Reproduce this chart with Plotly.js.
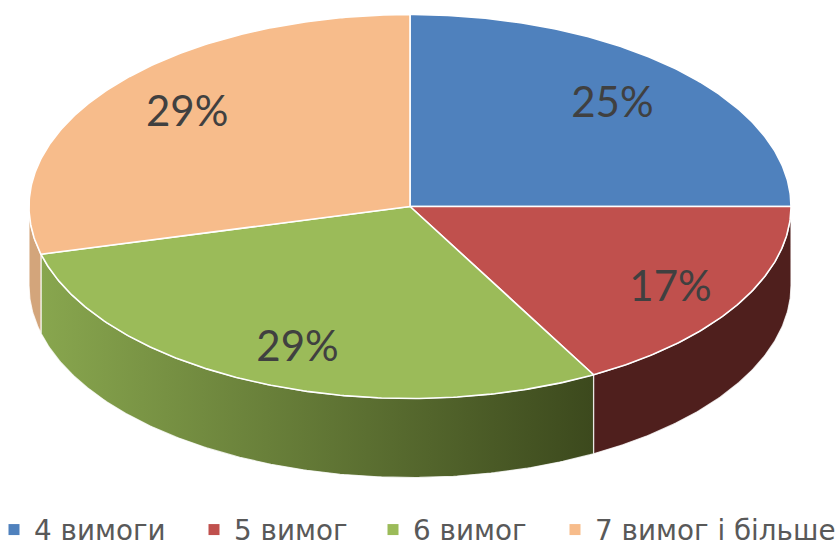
<!DOCTYPE html>
<html>
<head>
<meta charset="utf-8">
<script src="https://cdn.plot.ly/plotly-3.0.1.min.js"></script>
<style>html,body{margin:0;padding:0;background:#fff}#chart{width:835px;height:546px}</style>
</head>
<body>
<div id="chart"></div>
<script>
const categories = ['4 вимоги', '5 вимог', '6 вимог', '7 вимог і більше'];
const values = [25, 17, 29, 29];
const topColors = ['#4f81bd', '#c0504d', '#9bbb59', '#f7bc8b'];
const wallGradients = [
  null,
  ['#4f1f1d', '#4f1f1d'],
  ['#88a64e', '#3c491d'],
  ['#d3a57b', '#d3a57b']
];
const legendLeft = [-6, 194, 373, 555];
const labelNudgeX = [-5, 8, 4, 9];
const labelNudgeY = [5, 9, 8, 0];

// Pie geometry, in pixels of the 835x546 page
const W = 835, H = 546, CX = 410, CY = 206.5, RX = 381, RY = 192, DEPTH = 79;
const depth = DEPTH / RY, labelR = 0.77, legendY = 530;

const rim = a => [Math.sin(a), Math.cos(a)];      // a: clockwise from top, unit ellipse
function arc(a0, a1, dy) {
  const n = Math.max(2, Math.ceil(Math.abs(a1 - a0) / 0.01)), xs = [], ys = [];
  for (let i = 0; i <= n; i++) {
    const p = rim(a0 + (a1 - a0) * i / n);
    xs.push(p[0]); ys.push(p[1] - dy);
  }
  return [xs, ys];
}

const total = values.reduce((s, v) => s + v, 0);
const turn = v => 2 * Math.PI * v / total;
let acc = 0;
const spans = values.map(v => { const s = [turn(acc), turn(acc + v)]; acc += v; return s; });

const traces = [];
const WALL_LINE = {color: 'rgba(255,255,255,0.8)', width: 1.2};

// Side walls: only the near half of the rim (right to left, through the bottom)
spans.forEach((s, i) => {
  const a0 = Math.max(s[0], Math.PI / 2), a1 = Math.min(s[1], 3 * Math.PI / 2);
  if (a1 <= a0 || !wallGradients[i]) return;
  const t = arc(a0, a1, 0), b = arc(a1, a0, depth);
  traces.push({
    type: 'scatter', mode: 'lines', x: t[0].concat(b[0], [t[0][0]]), y: t[1].concat(b[1], [t[1][0]]),
    fill: 'toself', line: WALL_LINE,
    fillgradient: {type: 'horizontal', colorscale: [[0, wallGradients[i][0]], [1, wallGradients[i][1]]]},
    showlegend: false, hoverinfo: 'skip'
  });
});

// Top faces
spans.forEach((s, i) => {
  const t = arc(s[0], s[1], 0);
  traces.push({
    type: 'scatter', mode: 'lines', x: [0].concat(t[0], [0]), y: [0].concat(t[1], [0]),
    fill: 'toself', fillcolor: topColors[i], line: {color: '#fff', width: 1.6},
    showlegend: false, hoverinfo: 'skip'
  });
});

// Percent labels
traces.push({
  type: 'scatter', mode: 'text',
  x: spans.map((s, i) => labelR * rim((s[0] + s[1]) / 2)[0] + labelNudgeX[i] / RX),
  y: spans.map((s, i) => labelR * rim((s[0] + s[1]) / 2)[1] - labelNudgeY[i] / RY),
  text: values.map(v => v + '%'), textposition: 'middle center',
  textfont: {family: 'Lato, sans-serif', size: 42, color: '#404040'},
  showlegend: false, hoverinfo: 'skip'
});

// Legend entries, one legend each so that spacing follows the picture
const legends = {};
categories.forEach((c, i) => {
  const key = i === 0 ? 'legend' : 'legend' + (i + 1);
  traces.push({
    type: 'scatter', mode: 'markers', x: [null], y: [null], name: c, legend: key,
    marker: {symbol: 'square', size: 11, color: topColors[i]}, hoverinfo: 'skip'
  });
  legends[key] = {
    x: legendLeft[i] / W, xanchor: 'left', y: (H - legendY) / H, yanchor: 'middle',
    orientation: 'h', bgcolor: 'rgba(0,0,0,0)', borderwidth: 0, itemclick: false,
    font: {family: 'DejaVu Sans, sans-serif', size: 27.8, color: '#595959'}
  };
});

const layout = Object.assign({
  width: W, height: H, margin: {l: 0, r: 0, t: 0, b: 0, autoexpand: false},
  paper_bgcolor: '#fff', plot_bgcolor: '#fff',
  xaxis: {range: [-CX / RX, (W - CX) / RX], visible: false, fixedrange: true},
  yaxis: {range: [-(H - CY) / RY, CY / RY], visible: false, fixedrange: true},
  showlegend: true
}, legends);

Plotly.newPlot('chart', traces, layout, {displayModeBar: false, staticPlot: true});
</script>
</body>
</html>
